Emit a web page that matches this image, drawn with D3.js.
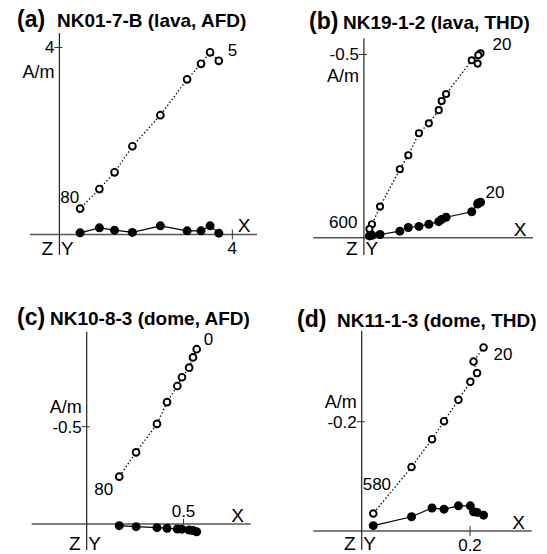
<!DOCTYPE html>
<html>
<head>
<meta charset="utf-8">
<script src="https://cdn.jsdelivr.net/npm/d3@7"></script>
<style>
  html, body { margin: 0; padding: 0; background: #fff; }
  svg { display: block; font-family: "Liberation Sans", Arial, Helvetica, sans-serif; }
</style>
</head>
<body>
<svg id="chart" width="547" height="554"></svg>
<script>
// Orthogonal vector (Zijderveld) diagrams, four specimens.
// Each step: x = X component, vert = vertical-plane component (open),
// horiz = horizontal-plane component (filled). Units A/m, listed in demag order.

// (a) NK01-7-B, lava, AF demagnetisation 5 -> 80 mT
const aX     = [3.686, 3.485, 3.276, 2.953, 2.335, 1.688, 1.276, 0.925, 0.479];
const aVert  = [3.715, 3.897, 3.651, 3.318, 2.551, 1.886, 1.329, 0.971, 0.553];
const aHoriz = [0.028, 0.184, 0.077, 0.077, 0.184, 0.043, 0.092, 0.141, 0.034];

// (b) NK19-1-2, lava, thermal demagnetisation 20 -> 600 °C
const bX     = [0.318, 0.312, 0.310, 0.294, 0.224, 0.212, 0.204, 0.177, 0.150, 0.121, 0.098, 0.044, 0.022, 0.015];
const bVert  = [-0.503, -0.498, -0.475, -0.484, -0.392, -0.373, -0.348, -0.312, -0.285, -0.225, -0.187, -0.085, -0.037, -0.024];
const bHoriz = [-0.097, -0.095, -0.092, -0.071, -0.056, -0.050, -0.044, -0.037, -0.031, -0.028, -0.018, -0.009, -0.007, -0.005];

// (c) NK10-8-3, dome, AF demagnetisation 0 -> 80 mT
const cX     = [0.568, 0.549, 0.529, 0.492, 0.468, 0.415, 0.363, 0.255, 0.168];
const cVert  = [-0.898, -0.856, -0.803, -0.754, -0.709, -0.626, -0.514, -0.368, -0.243];
const cHoriz = [0.040, 0.034, 0.031, 0.027, 0.026, 0.022, 0.019, 0.014, 0.009];

// (d) NK11-1-3, dome, thermal demagnetisation 20 -> 580 °C
const dX     = [0.225, 0.2065, 0.213, 0.2006, 0.1786, 0.152, 0.1298, 0.092, 0.0214];
const dVert  = [-0.336, -0.310, -0.289, -0.273, -0.240, -0.201, -0.168, -0.117, -0.032];
const dHoriz = [-0.029, -0.035, -0.034, -0.046, -0.046, -0.040, -0.042, -0.026, -0.0097];

// Panel tags and titles
const tags   = ["(a)", "(b)", "(c)", "(d)"];
const titles = ["NK01-7-B (lava, AFD)", "NK19-1-2 (lava, THD)", "NK10-8-3 (dome, AFD)", "NK11-1-3 (dome, THD)"];

// Tick values / labels (null = no tick)
const xTicks      = [4, null, 0.5, 0.2];
const xTickLabels = ["4", null, "0.5", "0.2"];
const yTicks      = [4, -0.5, -0.5, -0.2];
const yTickLabels = ["4", "-0.5", "-0.5", "-0.2"];

// First / last step labels (demag level)
const firstStepLabels = ["5", "20", "0", "20"];
const lastStepLabels  = ["80", "600", "80", "580"];
const horizEndLabels  = [null, "20", null, null];

// Layout (pixel boxes, domains, label placement)
const layout = [
  { box: [30, 257, 33, 255], xDom: [-0.68, 4.57], yDom: [-0.44, 4.31],
    tag: [17, 27], title: [57, 27],
    first: { dx: 9, dy: -5, anchor: "start" }, last: { dx: -1, dy: -6, anchor: "end" },
    xTickLab: { dy: 20 }, unitsDy: 31, openR: 3.4 },
  { box: [313.3, 533, 38.3, 255], xDom: [-0.138, 0.461], yDom: [0.047, -0.544],
    tag: [309, 28.5], title: [343, 28.5],
    first: { dx: 12, dy: -3, anchor: "start" }, last: { dx: -12, dy: -1, anchor: "end" },
    horizEnd: { dx: 5, dy: -4, anchor: "start" },
    unitsDy: 28, openR: 3.1 },
  { box: [31.7, 250.7, 331.7, 550], xDom: [-0.284, 0.847], yDom: [0.134, -0.988],
    tag: [17, 325], title: [50, 325],
    first: { dx: 7, dy: -4, anchor: "start" }, last: { dx: -6, dy: 18, anchor: "end" },
    xTickLab: { dy: -6.5 }, unitsDy: -14, openR: 3.4 },
  { box: [313.3, 531.7, 331, 550], xDom: [-0.0894, 0.3139], yDom: [0.0348, -0.366],
    tag: [297, 327], title: [337, 327],
    first: { dx: 10, dy: 13, anchor: "start" }, last: { dx: -10.6, dy: -24, anchor: "start" },
    xTickLab: { dy: 20 }, unitsDy: -14, openR: 3.3 }
];

const panels = [
  { x: aX, vert: aVert, horiz: aHoriz },
  { x: bX, vert: bVert, horiz: bHoriz },
  { x: cX, vert: cVert, horiz: cHoriz },
  { x: dX, vert: dVert, horiz: dHoriz }
];

const svg = d3.select("#chart");

panels.forEach((p, i) => {
  const L = layout[i];
  const [left, right, top, bottom] = L.box;
  const xs = d3.scaleLinear().domain(L.xDom).range([left, right]);
  const ys = d3.scaleLinear().domain(L.yDom).range([bottom, top]);
  const g = svg.append("g");

  const x0 = xs(0), y0 = ys(0);

  // axes through the origin
  g.append("line")
    .attr("x1", xs(L.xDom[0])).attr("x2", xs(L.xDom[1]))
    .attr("y1", y0).attr("y2", y0)
    .attr("stroke", "#555").attr("stroke-width", 1.4);
  g.append("line")
    .attr("x1", x0).attr("x2", x0)
    .attr("y1", ys(L.yDom[0])).attr("y2", ys(L.yDom[1]))
    .attr("stroke", "#222").attr("stroke-width", 1.2);

  // x tick
  if (xTicks[i] !== null) {
    const tx = xs(xTicks[i]);
    g.append("line").attr("x1", tx).attr("x2", tx)
      .attr("y1", y0 - 5).attr("y2", y0 + (i === 2 ? 0 : 5))
      .attr("stroke", "#333").attr("stroke-width", 1);
    g.append("text").attr("x", tx).attr("y", y0 + L.xTickLab.dy)
      .attr("text-anchor", "middle").attr("font-size", 17)
      .text(xTickLabels[i]);
  }

  // y tick
  const ty = ys(yTicks[i]);
  g.append("line").attr("x1", x0 - 5).attr("x2", x0 + 3)
    .attr("y1", ty).attr("y2", ty)
    .attr("stroke", "#333").attr("stroke-width", 1);
  g.append("text").attr("x", x0 - 5).attr("y", ty + 6)
    .attr("text-anchor", "end").attr("font-size", 17)
    .text(yTickLabels[i]);
  g.append("text").attr("x", x0 - 5).attr("y", ty + L.unitsDy)
    .attr("text-anchor", "end").attr("font-size", 18)
    .text("A/m");

  // component labels
  g.append("text").attr("x", xs(L.xDom[1]) - 13).attr("y", y0 - 2)
    .attr("text-anchor", "middle").attr("font-size", 19).text("X");
  g.append("text").attr("x", x0 - 12).attr("y", ys(L.yDom[0]))
    .attr("text-anchor", "middle").attr("font-size", 19).text("Z");
  g.append("text").attr("x", x0 + 8).attr("y", ys(L.yDom[0]))
    .attr("text-anchor", "middle").attr("font-size", 19).text("Y");

  // titles
  g.append("text").attr("x", L.tag[0]).attr("y", L.tag[1])
    .attr("font-size", 23).attr("font-weight", "bold").text(tags[i]);
  g.append("text").attr("x", L.title[0]).attr("y", L.title[1])
    .attr("font-size", 19).attr("font-weight", "bold").text(titles[i]);

  const idx = d3.range(p.x.length);
  const lineV = d3.line().x(k => xs(p.x[k])).y(k => ys(p.vert[k]));
  const lineH = d3.line().x(k => xs(p.x[k])).y(k => ys(p.horiz[k]));

  g.append("path").attr("d", lineV(idx)).attr("fill", "none")
    .attr("stroke", "#000").attr("stroke-width", 1.3)
    .attr("stroke-dasharray", "1.4,2.2");
  g.append("path").attr("d", lineH(idx)).attr("fill", "none")
    .attr("stroke", "#000").attr("stroke-width", 1.2);

  g.selectAll(".h").data(idx).enter().append("circle")
    .attr("cx", k => xs(p.x[k])).attr("cy", k => ys(p.horiz[k]))
    .attr("r", 4.5).attr("fill", "#000");
  g.selectAll(".v").data(idx).enter().append("circle")
    .attr("cx", k => xs(p.x[k])).attr("cy", k => ys(p.vert[k]))
    .attr("r", L.openR).attr("fill", "#fff")
    .attr("stroke", "#000").attr("stroke-width", 1.9);

  // step labels
  const n = p.x.length - 1;
  g.append("text")
    .attr("x", xs(p.x[0]) + L.first.dx).attr("y", ys(p.vert[0]) + L.first.dy)
    .attr("text-anchor", L.first.anchor).attr("font-size", 17)
    .text(firstStepLabels[i]);
  g.append("text")
    .attr("x", xs(p.x[n]) + L.last.dx).attr("y", ys(p.vert[n]) + L.last.dy)
    .attr("text-anchor", L.last.anchor).attr("font-size", 17)
    .text(lastStepLabels[i]);
  if (horizEndLabels[i] !== null) {
    g.append("text")
      .attr("x", xs(p.x[0]) + L.horizEnd.dx).attr("y", ys(p.horiz[0]) + L.horizEnd.dy)
      .attr("text-anchor", L.horizEnd.anchor).attr("font-size", 17)
      .text(horizEndLabels[i]);
  }
});
</script>
</body>
</html>
